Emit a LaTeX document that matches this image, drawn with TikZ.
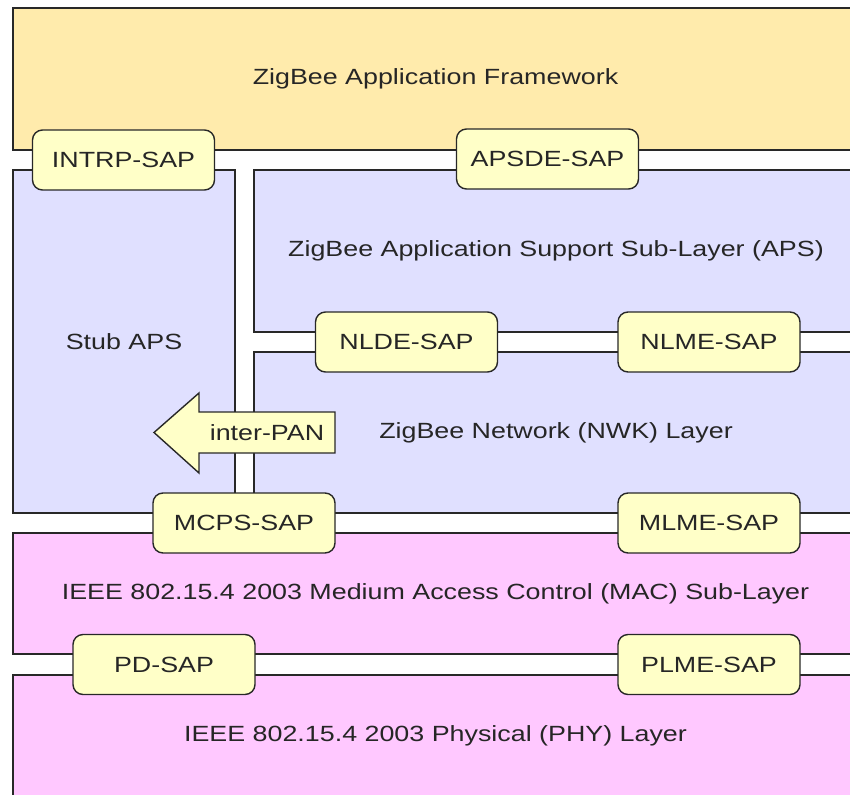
\documentclass[tikz,border=0pt]{standalone}
\usepackage{fontspec}
\setmainfont{Liberation Sans}[FakeStretch=1.22]
\usepackage{tikz}
\usetikzlibrary{calc}
\usetikzlibrary{arrows}
\usetikzlibrary{shapes,positioning}

\definecolor{framework}{RGB}{255,235,172}
\definecolor{lavender}{RGB}{224,224,255}
\definecolor{pinkish}{RGB}{255,200,255}
\definecolor{sapfill}{RGB}{255,255,200}
\definecolor{edge}{RGB}{40,40,40}

\begin{document}
\begin{tikzpicture}[x=1pt,y=-1pt,
    txt/.style={font=\fontsize{22}{26}\selectfont, text=black!85},
    layer/.style={txt, draw=edge, line width=1.4pt, inner sep=0pt},
    sap/.style={txt, draw=edge, line width=1.4pt, fill=sapfill, rounded corners=10pt,
      minimum width=182pt, minimum height=60pt, inner sep=0pt}]
      \useasboundingbox (0,0) rectangle (850,794);
      \clip (0,0) rectangle (850,794);
      % layers
      \node (fw) [layer, fill=framework, minimum width=845pt, minimum height=142pt] at (435.5,79) {ZigBee Application Framework};
      \node (stub) [layer, fill=lavender, minimum width=222pt, minimum height=343pt] at (124,341.5) {Stub APS};
      \node (aps) [layer, fill=lavender, minimum width=604pt, minimum height=162pt] at (556,251) {ZigBee Application Support Sub-Layer (APS)};
      \node (nwk) [layer, fill=lavender, minimum width=604pt, minimum height=161pt] at (556,432.5) {ZigBee Network (NWK) Layer};
      \node (mac) [layer, fill=pinkish, minimum width=845pt, minimum height=121pt] at (435.5,593.5) {IEEE 802.15.4 2003 Medium Access Control (MAC) Sub-Layer};
      \node (phy) [layer, fill=pinkish, minimum width=845pt, minimum height=121pt] at (435.5,735.5) {IEEE 802.15.4 2003 Physical (PHY) Layer};
      % inter-PAN arrow
      \filldraw[draw=edge, line width=1.4pt, fill=sapfill] (335,412) -- (199,412) -- (199,393) -- (154,432.5)
          -- (199,473) -- (199,453) -- (335,453) -- cycle;
      \node (interpan) [txt] at (267,432.5) {inter-PAN};
      % service access points
      \node (intrp) [sap] at (123.5,160) {INTRP-SAP};
      \node (apsde) [sap] at (547.5,159) {APSDE-SAP};
      \node (nlde) [sap] at (406.5,342) {NLDE-SAP};
      \node (nlme) [sap] at (709,342) {NLME-SAP};
      \node (mcps) [sap] at (244,523) {MCPS-SAP};
      \node (mlme) [sap] at (709,523) {MLME-SAP};
      \node (pd) [sap] at (164,664.5) {PD-SAP};
      \node (plme) [sap] at (709,664.5) {PLME-SAP};
\end{tikzpicture}
\end{document}
